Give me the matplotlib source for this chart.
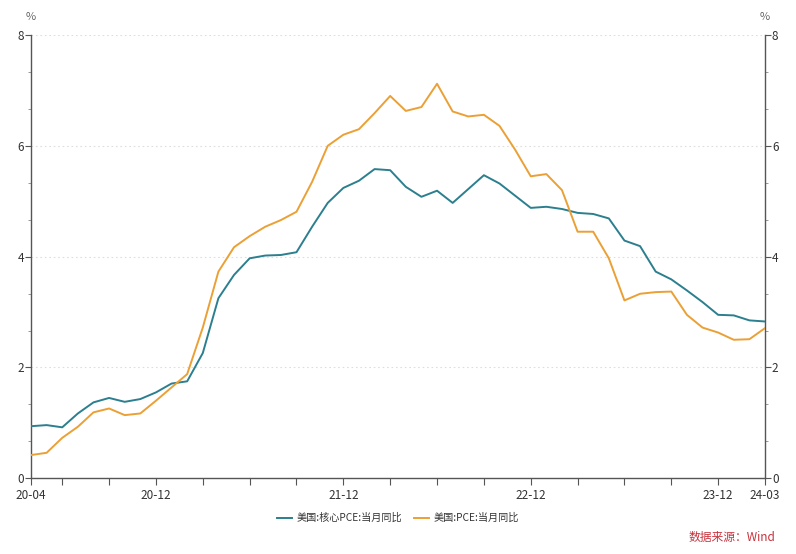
import matplotlib
matplotlib.use("Agg")
import matplotlib.pyplot as plt
from matplotlib.ticker import MultipleLocator, FixedLocator
import numpy as np

plt.rcParams['font.family'] = ['Noto Sans CJK SC', 'DejaVu Sans']

months = ['20-04', '20-05', '20-06', '20-07', '20-08', '20-09', '20-10', '20-11', '20-12',
          '21-01', '21-02', '21-03', '21-04', '21-05', '21-06', '21-07', '21-08', '21-09',
          '21-10', '21-11', '21-12', '22-01', '22-02', '22-03', '22-04', '22-05', '22-06',
          '22-07', '22-08', '22-09', '22-10', '22-11', '22-12', '23-01', '23-02', '23-03',
          '23-04', '23-05', '23-06', '23-07', '23-08', '23-09', '23-10', '23-11', '23-12',
          '24-01', '24-02', '24-03']

core_pce = [0.94, 0.96, 0.92, 1.17, 1.37, 1.45, 1.38, 1.43, 1.55,
            1.71, 1.75, 2.26, 3.25, 3.67, 3.97, 4.02, 4.03, 4.08,
            4.54, 4.97, 5.24, 5.37, 5.58, 5.56, 5.26, 5.08, 5.19,
            4.97, 5.22, 5.47, 5.32, 5.10, 4.88, 4.90, 4.86, 4.79,
            4.77, 4.69, 4.29, 4.19, 3.73, 3.59, 3.39, 3.18, 2.95,
            2.94, 2.85, 2.83]

pce = [0.42, 0.46, 0.73, 0.93, 1.19, 1.26, 1.14, 1.17, 1.40,
       1.64, 1.88, 2.72, 3.73, 4.17, 4.37, 4.54, 4.66, 4.81,
       5.35, 6.00, 6.20, 6.30, 6.59, 6.90, 6.63, 6.70, 7.12,
       6.62, 6.53, 6.56, 6.36, 5.93, 5.45, 5.49, 5.20, 4.45,
       4.45, 3.97, 3.21, 3.33, 3.36, 3.37, 2.95, 2.72, 2.63,
       2.50, 2.51, 2.71]

labels_shown = ['20-04', '20-12', '21-12', '22-12', '23-12', '24-03']
series_names = ['美国:核心PCE:当月同比', '美国:PCE:当月同比']

teal = '#2b7f8e'
orange = '#eba035'
axis_c = '#555555'
text_c = '#333333'

fig = plt.figure(figsize=(7.96, 5.54), dpi=100)
ax = fig.add_axes([31/796, 1-478.3/554, (765-31)/796, (478.3-35)/554])

x = np.arange(len(months))
ax.plot(x, core_pce, color=teal, lw=1.4, label=series_names[0], zorder=3)
ax.plot(x, pce, color=orange, lw=1.4, label=series_names[1], zorder=3)

ax.set_xlim(0, len(months)-1)
ax.set_ylim(0, 8)

# y axis
ax.yaxis.set_major_locator(MultipleLocator(2))
ax.yaxis.set_minor_locator(MultipleLocator(2/3))
ax.grid(axis='y', which='major', color='#dedede', lw=0.8, ls=(0, (1.5, 2.5)))
ax.set_axisbelow(True)

# x axis ticks: quarterly ticks plus labelled ones
lab_pos = [months.index(m) for m in labels_shown]
tick_pos = sorted(set(list(range(2, len(months), 3)) + lab_pos))
ax.xaxis.set_major_locator(FixedLocator(tick_pos))
ax.set_xticklabels([months[p] if p in lab_pos else '' for p in tick_pos])

ax.spines['top'].set_visible(False)
for s in ['left', 'right', 'bottom']:
    ax.spines[s].set_color(axis_c)
    ax.spines[s].set_linewidth(1.0)

ax.tick_params(axis='x', which='major', direction='out', length=5, color=axis_c,
               labelsize=8.5, labelcolor=text_c, pad=3)
ax.tick_params(axis='y', which='major', direction='out', length=4, color=axis_c,
               labelsize=8.5, labelcolor=text_c, pad=1,
               left=True, right=True, labelleft=True, labelright=True)
ax.tick_params(axis='y', which='minor', direction='out', length=2.5, color='#888888',
               left=True, right=True)

fig.text(31/796, 1-17/554, '%', ha='center', va='center', fontsize=8, color='#666666')
fig.text(765/796, 1-17/554, '%', ha='center', va='center', fontsize=8, color='#666666')

leg = fig.legend(loc='center', bbox_to_anchor=(398/796, 1-518/554), ncol=2, frameon=False,
                 fontsize=7.3, handlelength=1.5, columnspacing=1.2, handletextpad=0.4)
for t in leg.get_texts():
    t.set_color(text_c)

fig.text(775/796, 1-537/554, '数据来源：Wind', ha='right', va='center', fontsize=8.5,
         color='#c8323c')

fig.savefig('out.png', dpi=100, facecolor='white')
